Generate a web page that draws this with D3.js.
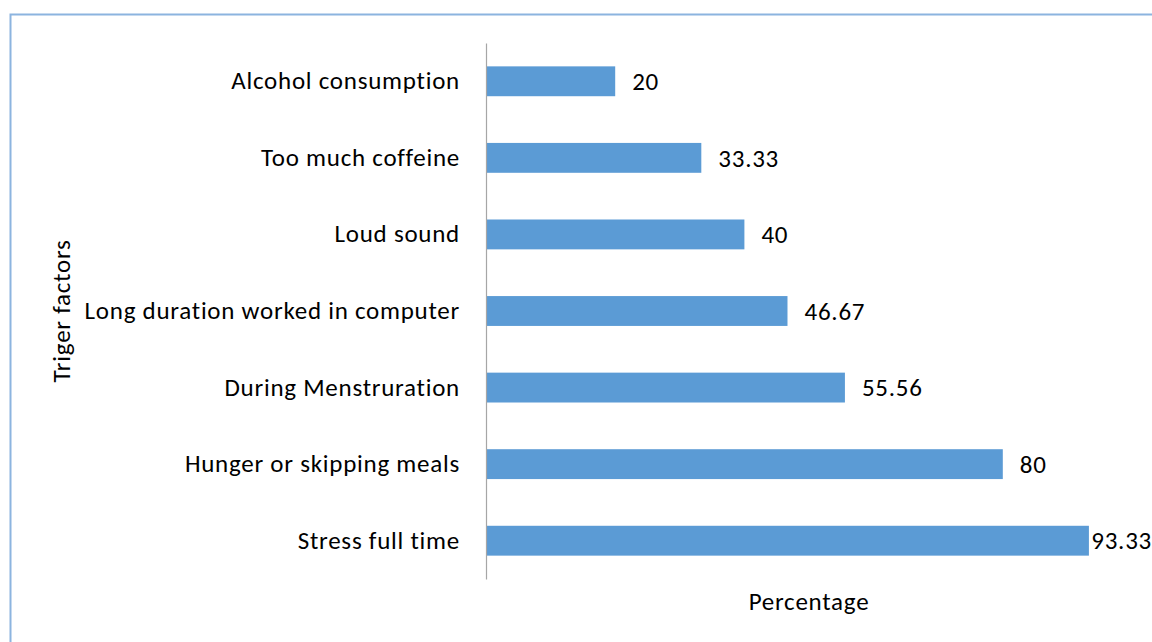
<!DOCTYPE html>
<html><head><meta charset="utf-8">
<script src="https://cdn.jsdelivr.net/npm/d3@7"></script>
<style>html,body{margin:0;padding:0;background:#fff;}svg{display:block;}</style>
</head><body>
<script>
const categories = ["Alcohol consumption","Too much coffeine","Loud sound","Long duration worked in computer","During Menstruration","Hunger or skipping meals","Stress full time"];
const values = [20,33.33,40,46.67,55.56,80,93.33];
const valueLabels = ["20","33.33","40","46.67","55.56","80","93.33"];
const xTitle = "Percentage";
const yTitle = "Triger factors";

(function(){
const W = 1152, H = 642;
const svg = d3.select("body").append("svg").attr("width", W).attr("height", H);
const font = "Carlito, 'Liberation Sans', Arial, sans-serif";
const fs = 25, ls = 0.75;

svg.append("rect").attr("x", 10.5).attr("y", 14.5).attr("width", 1160).attr("height", 660)
  .attr("fill", "none").attr("stroke", "#8cb4df").attr("stroke-width", 2);

const pL = 486, pR = 1132, pT = 43, pB = 579;
const x = d3.scaleLinear().domain([0, 100]).range([pL, pR]);
const y = d3.scaleBand().domain(categories).range([pT, pB]).paddingInner(0.61).paddingOuter(0.305);

svg.selectAll("rect.bar").data(categories).join("rect").attr("class","bar")
  .attr("x", x(0)).attr("y", d => y(d))
  .attr("width", (d,i) => x(values[i]) - x(0)).attr("height", y.bandwidth())
  .attr("fill", "#5b9bd5");

const yAxis = d3.axisLeft(y).tickSize(0).tickPadding(26);
const ga = svg.append("g").attr("transform", `translate(${pL},0)`).call(yAxis);
ga.select(".domain").attr("stroke", "#a6a6a6").attr("stroke-width", 1.2);
ga.selectAll("text").attr("font-family", font).attr("font-size", fs).attr("letter-spacing", ls).attr("fill", "#000");

svg.selectAll("text.val").data(categories).join("text").attr("class","val")
  .attr("x", (d,i) => x(values[i]) + 17)
  .attr("y", d => y(d) + y.bandwidth()/2).attr("dy", "0.35em")
  .attr("font-family", font).attr("font-size", fs).attr("letter-spacing", ls).attr("fill", "#000")
  .text((d,i) => valueLabels[i])
  .each(function(){
    const len = this.getComputedTextLength();
    const cx = +this.getAttribute("x");
    if (cx + len > W) this.setAttribute("x", W - len);
  });

svg.append("text").attr("x", (pL+pR)/2).attr("y", 610).attr("text-anchor","middle")
  .attr("font-family", font).attr("font-size", fs).attr("letter-spacing", ls).text(xTitle);
svg.append("text").attr("transform", `translate(70,${(pT+pB)/2}) rotate(-90)`).attr("text-anchor","middle")
  .attr("font-family", font).attr("font-size", fs).attr("letter-spacing", ls).text(yTitle);
})();
</script>
</body></html>
